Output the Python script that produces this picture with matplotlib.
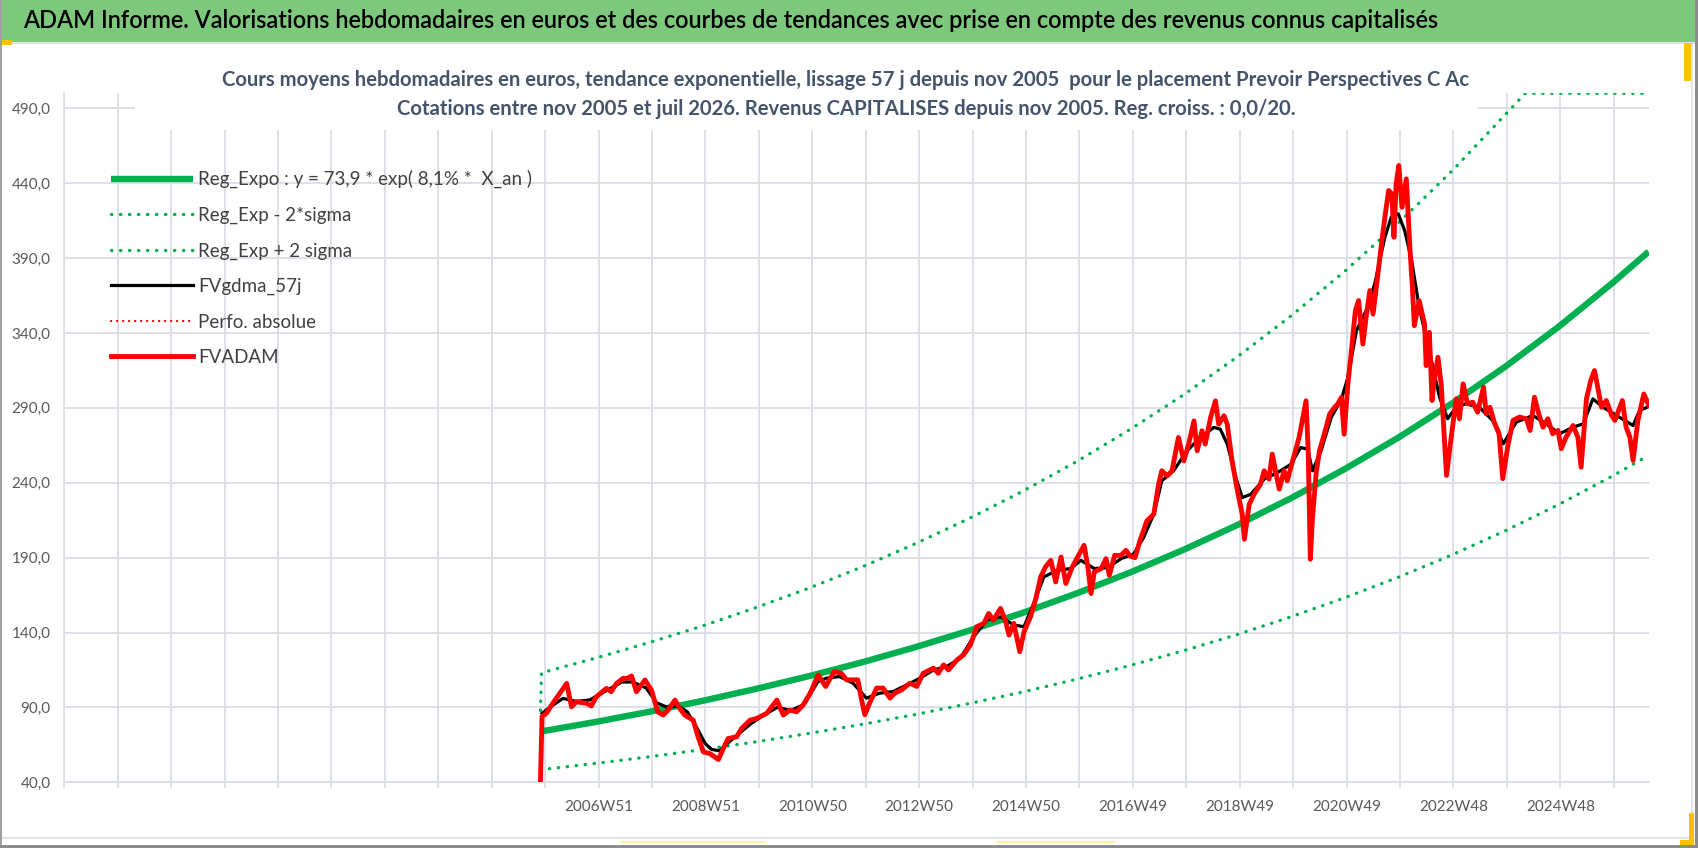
import numpy as np
import matplotlib
matplotlib.use('Agg')
import matplotlib.pyplot as plt
from matplotlib.patches import Rectangle

W, H = 1698, 848
plt.rcParams['font.family'] = ['Lato', 'DejaVu Sans']

# weekly valuations (decimal year, euros)
fvadam_t = [2005.88, 2005.91, 2005.99, 2006.11, 2006.24, 2006.37, 2006.46, 2006.55, 2006.74, 2006.83,
            2006.92, 2007.11, 2007.20, 2007.30, 2007.42, 2007.50, 2007.58, 2007.67, 2007.83, 2007.95,
            2008.07, 2008.17, 2008.26, 2008.39, 2008.48, 2008.57, 2008.73, 2008.82, 2008.92, 2009.04,
            2009.20, 2009.29, 2009.38, 2009.54, 2009.63, 2009.79, 2009.91, 2010.10, 2010.29, 2010.41,
            2010.53, 2010.66, 2010.78, 2010.91, 2011.06, 2011.20, 2011.36, 2011.49, 2011.59, 2011.80,
            2011.87, 2011.93, 2012.02, 2012.15, 2012.27, 2012.40, 2012.49, 2012.62, 2012.77, 2012.90,
            2013.02, 2013.21, 2013.30, 2013.40, 2013.49, 2013.65, 2013.77, 2013.90, 2014.02, 2014.15,
            2014.24, 2014.33, 2014.46, 2014.55, 2014.62, 2014.71, 2014.82, 2014.90, 2015.02, 2015.12,
            2015.21, 2015.30, 2015.40, 2015.49, 2015.59, 2015.68, 2015.80, 2015.90, 2016.02, 2016.09,
            2016.15, 2016.21, 2016.34, 2016.43, 2016.49, 2016.59, 2016.71, 2016.80, 2016.88, 2016.97,
            2017.06, 2017.19, 2017.32, 2017.41, 2017.47, 2017.57, 2017.66, 2017.78, 2017.88, 2017.97,
            2018.07, 2018.13, 2018.22, 2018.28, 2018.38, 2018.47, 2018.53, 2018.63, 2018.69, 2018.78,
            2018.88, 2018.97, 2019.01, 2019.10, 2019.19, 2019.31, 2019.38, 2019.47, 2019.53, 2019.59,
            2019.66, 2019.75, 2019.81, 2019.91, 2020.03, 2020.10, 2020.16, 2020.20, 2020.24, 2020.28,
            2020.35, 2020.41, 2020.50, 2020.60, 2020.69, 2020.75, 2020.82, 2020.87, 2020.94, 2021.00,
            2021.08, 2021.14, 2021.22, 2021.28, 2021.35, 2021.41, 2021.47, 2021.56, 2021.63, 2021.70,
            2021.76, 2021.80, 2021.84, 2021.89, 2021.95, 2022.03, 2022.10, 2022.14, 2022.18, 2022.27,
            2022.37, 2022.40, 2022.46, 2022.51, 2022.55, 2022.62, 2022.68, 2022.72, 2022.78, 2022.86,
            2022.96, 2023.02, 2023.09, 2023.17, 2023.27, 2023.36, 2023.47, 2023.52, 2023.59, 2023.67,
            2023.76, 2023.83, 2023.92, 2024.02, 2024.14, 2024.27, 2024.34, 2024.42, 2024.50, 2024.58,
            2024.67, 2024.76, 2024.86, 2024.92, 2025.01, 2025.14, 2025.23, 2025.29, 2025.39, 2025.47,
            2025.54, 2025.60, 2025.67, 2025.76, 2025.86, 2025.92, 2026.06, 2026.13, 2026.20, 2026.26,
            2026.35, 2026.46, 2026.55]
fvadam_v = [40, 84, 86, 92.7, 99.4, 106, 90.4, 93.8, 92.7, 91,
            97, 102.7, 100.5, 106, 109.4, 109.4, 111, 100.5, 108.3, 101.6,
            87, 84.9, 88.2, 94.9, 89.3, 84.9, 81.5, 70.4, 60.3, 59.2,
            55.2, 62.5, 69.2, 70.4, 75.9, 81.5, 82.6, 86, 94.9, 84.9,
            88.2, 87.1, 91.6, 99.4, 111.7, 104, 113.9, 112.8, 108.4, 108.4,
            95.1, 85.1, 92.9, 102.9, 102.9, 96.2, 99.5, 101.8, 106.2, 104,
            112.8, 116.2, 112.8, 118.4, 115, 121.7, 125, 131.7, 143.9, 146.1,
            152.7, 148.3, 156.1, 148.3, 138.3, 146.1, 127.2, 140.5, 150.5, 162.7,
            177.1, 183.8, 188.2, 173.8, 190.4, 172.7, 183.8, 190.4, 198.2, 183.8,
            166, 180.5, 182.7, 189.3, 178.2, 191.5, 191.5, 194.9, 191, 190,
            201, 214.5, 219, 239, 248, 244.6, 248, 270.2, 254.6, 265.8,
            281.3, 261.3, 274.7, 265.8, 283.6, 294.7, 279.1, 284.7, 279.1, 254.6,
            234.6, 219, 202.3, 225.6, 232.3, 239, 248, 242.4, 259.1, 248,
            235.7, 248, 241.3, 254.6, 270.2, 283.6, 294.7, 261.3, 188.9, 216.7,
            246.8, 261.3, 272.4, 285.8, 290.3, 292.5, 297, 272.4, 305.9, 325.9,
            354.9, 361.6, 332.6, 350.4, 368.3, 352.6, 370.5, 397.2, 417.3, 435.1,
            432.9, 403.9, 439.5, 451.8, 423.9, 442.9, 395, 372.7, 344.9, 361.5,
            346, 318.2, 340.4, 294.9, 308.2, 323.8, 306, 281.6, 244.9, 268.2,
            296, 282.7, 306, 292.7, 293.8, 287.1, 303.8, 286, 290.4, 280.4,
            272.7, 242.7, 263.8, 281.6, 283.8, 282.7, 274.9, 297.1, 286, 277.1,
            282.7, 272.7, 274.9, 262.7, 270.4, 278.2, 270.4, 250.4, 296, 308.2,
            314.9, 303.8, 290.4, 294.9, 284.9, 281.6, 294.9, 277.1, 270.4, 254.9,
            281.6, 299.3, 292.0]

# 57 day smoothing (black line)
gdma_t = [2005.91, 2006.05, 2006.30, 2006.55, 2006.80, 2007.05, 2007.40, 2007.60, 2007.85, 2008.05,
          2008.25, 2008.45, 2008.62, 2008.82, 2008.95, 2009.07, 2009.22, 2009.37, 2009.55, 2009.80,
          2010.05, 2010.30, 2010.55, 2010.80, 2011.05, 2011.21, 2011.46, 2011.71, 2011.96, 2012.21,
          2012.46, 2012.71, 2012.96, 2013.21, 2013.46, 2013.71, 2013.96, 2014.21, 2014.46, 2014.71,
          2014.90, 2015.08, 2015.27, 2015.52, 2015.77, 2015.96, 2016.21, 2016.46, 2016.71, 2016.94,
          2017.13, 2017.32, 2017.47, 2017.69, 2017.94, 2018.19, 2018.44, 2018.56, 2018.69, 2018.85,
          2018.97, 2019.13, 2019.38, 2019.63, 2019.88, 2020.06, 2020.19, 2020.28, 2020.44, 2020.63,
          2020.82, 2020.94, 2021.10, 2021.28, 2021.44, 2021.63, 2021.75, 2021.88, 2022.00, 2022.13,
          2022.27, 2022.46, 2022.65, 2022.80, 2022.96, 2023.14, 2023.39, 2023.64, 2023.84, 2024.08,
          2024.39, 2024.64, 2024.89, 2025.14, 2025.33, 2025.51, 2025.70, 2025.95, 2026.26, 2026.38,
          2026.55]
gdma_v = [86, 90, 96, 94, 95, 100, 107, 107, 103, 93,
          90, 91, 87, 75, 66, 62, 61, 66, 71.5, 79,
          85, 90, 88, 92, 107, 109.5, 110.6, 106.2, 96.2, 99.5,
          100.6, 105, 109.5, 115, 117.3, 122.8, 137.2, 148.3, 150.5, 145,
          143.9, 159.4, 177.1, 181.6, 182.7, 188.2, 182.7, 183.3, 189.3, 192.2,
          203.4, 219, 241.3, 248, 261.3, 270.2, 276.9, 275.8, 265.8, 243.5,
          230.1, 232.3, 242.4, 246.8, 252.4, 263.5, 262.4, 248, 261.3, 283.6,
          295.8, 310.3, 341.5, 354.9, 372.7, 403.9, 417.3, 419.5, 408.3, 388.3,
          357, 328, 297, 282.7, 290.4, 292.7, 290.4, 281.6, 266, 280.4,
          284.9, 279.3, 272.7, 277.1, 279.3, 296, 290.4, 284.9, 278.2, 288.2,
          290.9]

# regression curves, read once a year from nov 2005
trend_t = [2005.88, 2006.88, 2007.88, 2008.88, 2009.88, 2010.88, 2011.88, 2012.88, 2013.88, 2014.88,
           2015.88, 2016.88, 2017.88, 2018.88, 2019.88, 2020.88, 2021.88, 2022.88, 2023.88, 2024.88,
           2025.88, 2026.55]
reg_expo = [73.9, 80.1, 86.9, 94.2, 102.2, 110.8, 120.1, 130.3, 141.3, 153.2,
            166.1, 180.1, 195.3, 211.8, 229.7, 249.1, 270.1, 292.9, 317.6, 344.4,
            373.5, 394.3]
reg_low = [48.4, 52.5, 56.9, 61.7, 66.9, 72.6, 78.7, 85.3, 92.6, 100.3,
           108.8, 118.0, 127.9, 138.7, 150.5, 163.2, 176.9, 191.8, 208.0, 225.6,
           244.6, 258.3]
up_t = [2005.88, 2005.90, 2006.88, 2007.88, 2008.88, 2009.88, 2010.88, 2011.88, 2012.88, 2013.88,
        2014.88, 2015.88, 2016.88, 2017.88, 2018.88, 2019.88, 2020.88, 2021.88, 2022.88, 2023.88,
        2024.25, 2026.55]
reg_up = [88, 113.1, 122.6, 133.0, 144.1, 156.4, 169.5, 183.8, 199.4, 216.2,
          234.4, 254.1, 275.6, 298.8, 324.1, 351.4, 381.1, 413.3, 448.1, 485.9,
          500, 500]

xlabels = ['2006W51', '2008W51', '2010W50', '2012W50', '2014W50',
           '2016W49', '2018W49', '2020W49', '2022W48', '2024W48']
yticks = list(range(40, 491, 50))

GREEN = '#00B050'
GRID = '#DADEE5'
TXT = '#595959'
DOTS = (0, (0.1, 2.6))


def week(t):
    # category axis: one slot per week, 2006W51 sits on slot 520
    return 520 + (np.asarray(t) - 2006.965) * 52.18


def px_rect(x, y, w, h, color, **kw):
    return Rectangle((x / W, 1 - (y + h) / H), w / W, h / H, transform=fig.transFigure,
                     facecolor=color, edgecolor='none', **kw)


fig = plt.figure(figsize=(W / 100, H / 100), dpi=100)
fig.patch.set_facecolor('white')

# frame, header bar and the little selection handles
fig.add_artist(px_rect(0, 0, W, 42, '#7EC87E'))
fig.add_artist(px_rect(0, 42, W, 2, '#E3E3E3'))
fig.add_artist(px_rect(0, 40, 12, 5, '#FFC000'))
fig.add_artist(px_rect(1684, 43, 9, 38, '#FFC000'))
fig.add_artist(px_rect(0, 0, 2, H, '#A0A0A0'))
fig.add_artist(px_rect(0, 845, W, 3, '#8C8C8C'))
fig.add_artist(px_rect(1695, 0, 3, H, '#8C8C8C'))
fig.add_artist(px_rect(2, 837, 1690, 2, '#E3E3E3'))
fig.add_artist(px_rect(1691, 44, 2, 794, '#E3E3E3'))
fig.add_artist(px_rect(1689, 813, 5, 32, '#FFC000'))
fig.add_artist(px_rect(1680, 840, 14, 5, '#FFC000'))
fig.add_artist(px_rect(620, 841, 146, 2, '#FFF3A0'))
fig.add_artist(px_rect(996, 841, 119, 2, '#FFF3A0'))

title = fig.text(23 / W, 1 - 21 / H,
                 'ADAM Informe. Valorisations hebdomadaires en euros et des courbes de tendances '
                 'avec prise en compte des revenus connus capitalisés',
                 ha='left', va='center', fontsize=16, fontweight='semibold', color='black')
sub1 = fig.text(846 / W, 1 - 80 / H,
                'Cours moyens hebdomadaires en euros, tendance exponentielle, lissage 57 j depuis nov 2005  '
                'pour le placement Prevoir Perspectives C Ac',
                ha='center', va='center', fontsize=13, fontweight='bold', color='#44546A')
sub2 = fig.text(846 / W, 1 - 109 / H,
                'Cotations entre nov 2005 et juil 2026. Revenus CAPITALISES depuis nov 2005. '
                'Reg. croiss. : 0,0/20.',
                ha='center', va='center', fontsize=13, fontweight='bold', color='#44546A')

r = fig.canvas.get_renderer()
for txt, target in [(title, 1427), (sub1, 1248)]:
    w = txt.get_window_extent(renderer=r).width
    txt.set_fontsize(txt.get_fontsize() * target / w)
sub2.set_fontsize(sub1.get_fontsize())

ax = fig.add_axes([64.3 / W, 1 - 782.3 / H, (1648.7 - 64.3) / W, (782.3 - 93.3) / H])
ax.set_facecolor('none')

ax.plot(week(trend_t), reg_expo, color=GREEN, lw=4.6, solid_capstyle='butt', zorder=3,
        label='Reg_Expo : y = 73,9 * exp( 8,1% *  X_an )')
ax.plot(week(trend_t), reg_low, color=GREEN, lw=2.4, ls=DOTS, dash_capstyle='round',
        zorder=3, label='Reg_Exp - 2*sigma')
ax.plot(week(up_t), reg_up, color=GREEN, lw=2.4, ls=DOTS, dash_capstyle='round',
        zorder=3, label='Reg_Exp + 2 sigma')
ax.plot(week(gdma_t), gdma_v, color='black', lw=2.3, zorder=4, label='FVgdma_57j')
ax.plot(week(fvadam_t), fvadam_v, color='#FF0000', lw=1.6, ls=DOTS,
        dash_capstyle='round', zorder=4, label='Perfo. absolue')
ax.plot(week(fvadam_t), fvadam_v, color='#FF0000', lw=3.5, zorder=5, label='FVADAM')

# white box of the chart title hides the grid behind it
ax.add_patch(px_rect(135, 40, 1343, 90, 'white', zorder=2))

ax.set_xlim(0, 1542)
ax.set_ylim(40, 500)

xt = np.arange(0, 1542, 52)
ax.set_xticks(xt)
labs = [''] * len(xt)
for i, lab in enumerate(xlabels):
    labs[10 + 2 * i] = lab
ax.set_xticklabels(labs)
ax.set_yticks(yticks)
ax.set_yticklabels([f'{v},0' for v in yticks])

ax.grid(True, color=GRID, lw=1.3)
ax.set_axisbelow(True)
ax.tick_params(axis='x', length=4.5, width=1.3, color=GRID, labelcolor=TXT,
               labelsize=11, pad=8)
ax.tick_params(axis='y', length=0, labelcolor=TXT, labelsize=11, pad=10)
for s in ['top', 'right']:
    ax.spines[s].set_visible(False)
for s in ['left', 'bottom']:
    ax.spines[s].set_color(GRID)
    ax.spines[s].set_linewidth(1.3)

fs = 13.5
fs_px = fs * 100 / 72
leg = ax.legend(loc='upper left', bbox_to_anchor=(111 / W, 1 - 170 / H),
                bbox_transform=fig.transFigure, frameon=False, fontsize=fs,
                borderpad=0, borderaxespad=0, handlelength=82 / fs_px,
                handletextpad=5 / fs_px, labelspacing=0.98)
for t in leg.get_texts():
    t.set_color('#404040')

fig.savefig('out.png', dpi=100)
